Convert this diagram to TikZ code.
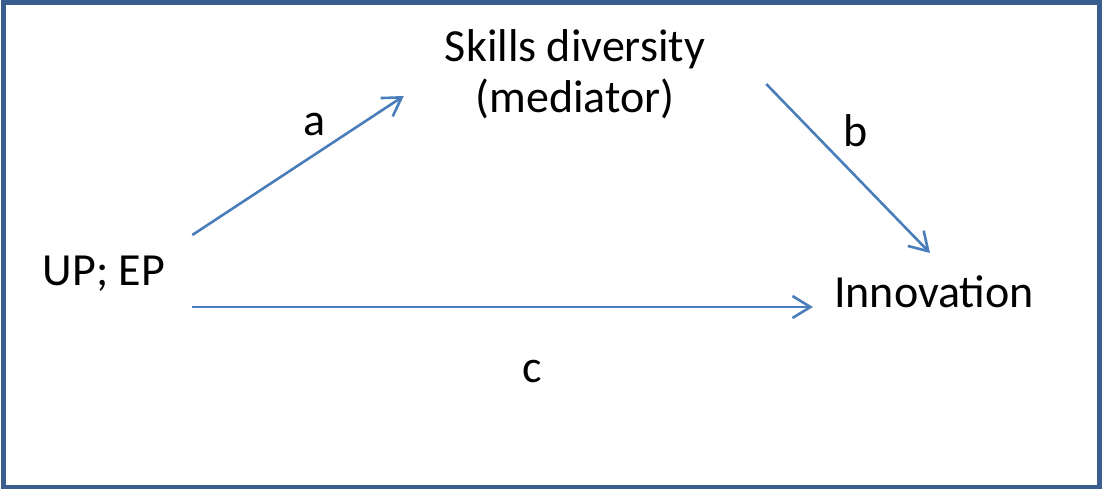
\documentclass[tikz,border=0pt]{standalone}
\usepackage{fontspec}
\setmainfont{Carlito}
\usetikzlibrary{arrows.meta,calc}
\definecolor{framecol}{HTML}{3A5F8F}
\definecolor{arrcol}{HTML}{4A7EBB}
\begin{document}
\begin{tikzpicture}[x=1pt,y=-1pt,
  lbl/.style={inner sep=0pt, font=\fontsize{46}{51}\selectfont},
  arr/.style={draw=arrcol, line width=2.6pt, -{Straight Barb[length=18pt,width=22pt,line width=2.6pt]}}]
\useasboundingbox (0,0) rectangle (1102,489);
\fill[white] (0,0) rectangle (1102,489);
\draw[framecol, line width=4.6pt] (3.5,2.3) rectangle (1099.5,486.8);
\node[lbl, anchor=base] (up) at (104,285) {UP; EP};
\node[lbl, anchor=base] (inn) at (934,307) {Innovation};
\node[lbl, align=center, anchor=center] (sd) at (575,74) {Skills diversity\\(mediator)};
\node[lbl, anchor=base] (la) at (315,136) {a};
\node[lbl, anchor=base] (lb) at (856,147) {b};
\node[lbl, anchor=base] (lc) at (532,382) {c};
\draw[arr] ($(up.base east)+(27,-50)$) -- ($(sd.west)+(-41,22)$);
\draw[arr] ($(sd.east)+(61,10)$) -- ($(inn.base)+(-4,-54)$);
\draw[arr] ($(up.base east)+(27,22)$) -- ($(inn.base west)+(-21,0)$);
\end{tikzpicture}
\end{document}
